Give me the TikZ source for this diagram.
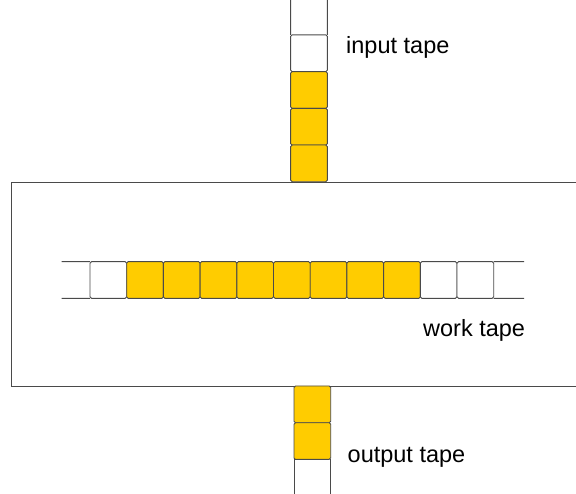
\documentclass[tikz,border=0pt]{standalone}
\usepackage{fontspec}
\setmainfont{Liberation Sans}
\definecolor{tapeline}{HTML}{4A4A4A}
\definecolor{symbol}{HTML}{FFCC00}
\begin{document}
\begin{tikzpicture}[x=1pt,y=-1pt,
  cell/.style={draw=tapeline,line width=0.9pt,rounded corners=1.5pt,
    minimum width=36.7pt,minimum height=36.7pt,inner sep=0pt,outer sep=0pt},
  blank/.style={cell,fill=white},
  full/.style={cell,fill=symbol},
  edge/.style={draw=tapeline,line width=0.9pt},
  label/.style={anchor=base west,inner sep=0pt,font=\fontsize{23.5}{28}\selectfont}]
\useasboundingbox[fill=white] (0,0) rectangle (576,494);

% machine body (runs off the right side)
\coordinate (boxTR) at (576,182.3);
\coordinate (boxTL) at (11.7,182.3);
\coordinate (boxBL) at (11.7,386);
\coordinate (boxBR) at (576,386);
\draw[edge] (boxTR) -- (boxTL) -- (boxBL) -- (boxBR);

% input tape
\node[blank] (in1) at (309,53.3) {};
\node[full]  (in2) at (309,90) {};
\node[full]  (in3) at (309,126.7) {};
\node[full]  (in4) at (309,163.4) {};
\coordinate (inTopL) at (290.65,0);
\coordinate (inTopR) at (327.35,0);
\draw[edge] (inTopL) -- (in1.north west) (inTopR) -- (in1.north east);

% work tape
\node[blank] (w1) at (108.35,280) {};
\foreach \i in {2,...,9}{
  \node[full] (w\i) at ({108.35+(\i-1)*36.7},280) {};
}
\foreach \i in {10,11}{
  \node[blank] (w\i) at ({108.35+(\i-1)*36.7},280) {};
}
\coordinate (wLT) at (61.7,261.65);
\coordinate (wLB) at (61.7,298.35);
\coordinate (wRT) at (524,261.65);
\coordinate (wRB) at (524,298.35);
\draw[edge] (wLT) -- (w1.north west) (wLB) -- (w1.south west);
\draw[edge] (w11.north east) -- (wRT) (w11.south east) -- (wRB);

% output tape
\node[full] (out1) at (312.35,404.35) {};
\node[full] (out2) at (312.35,441.05) {};
\coordinate (outBL) at (294,494);
\coordinate (outBR) at (330.7,494);
\draw[edge] (out2.south west) -- (outBL) (out2.south east) -- (outBR);

% labels
\node[label] (inLabel) at (346,53.3) {input tape};
\node[label] (workLabel) at (423,336.7) {work tape};
\node[label] (outLabel) at (347.5,462.3) {output tape};
\end{tikzpicture}
\end{document}
